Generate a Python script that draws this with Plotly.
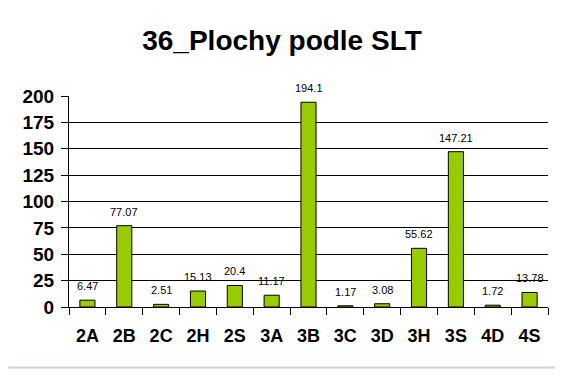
import plotly.graph_objects as go

categories = ["2A", "2B", "2C", "2H", "2S", "3A", "3B", "3C", "3D", "3H", "3S", "4D", "4S"]
values = [6.47, 77.07, 2.51, 15.13, 20.4, 11.17, 194.1, 1.17, 3.08, 55.62, 147.21, 1.72, 13.78]
value_labels = ["6.47", "77.07", "2.51", "15.13", "20.4", "11.17", "194.1", "1.17", "3.08", "55.62", "147.21", "1.72", "13.78"]
y_ticks = [0, 25, 50, 75, 100, 125, 150, 175, 200]

FONT = "Liberation Sans, Arial, sans-serif"
W, H = 555, 369  # page body has an 8px margin

fig = go.Figure(go.Bar(
    x=categories, y=values,
    marker=dict(color="#99cc00", line=dict(color="black", width=1)),
    width=0.41,
))

for c, v, t in zip(categories, values, value_labels):
    fig.add_annotation(x=c, y=v, text=t, showarrow=False, yanchor="bottom", yshift=6,
                       font=dict(family=FONT, size=11, color="black"))

fig.add_shape(type="line", xref="paper", yref="paper", x0=-0.2, x1=1.1, y0=-0.287, y1=-0.287,
              line=dict(color="#d4d0c8", width=2))

fig.update_layout(
    width=W, height=H,
    margin=dict(l=61, r=15, t=88, b=70, autoexpand=False),
    paper_bgcolor="white", plot_bgcolor="white",
    title=dict(text="<b>36_Plochy podle SLT</b>", x=274 / W, xref="container", xanchor="center",
               y=1 - 32 / H, yanchor="middle",
               font=dict(family=FONT, size=28, color="black")),
    showlegend=False,
    xaxis=dict(tickson="boundaries", ticks="outside", ticklen=7, tickcolor="black",
               showline=True, linecolor="black", linewidth=1,
               tickfont=dict(family=FONT, size=18, color="black"),
               tickvals=categories, ticktext=["<b>%s</b>" % c for c in categories],
               ticklabelstandoff=12,
               range=[-0.5, 12.5]),
    yaxis=dict(range=[0, 200], tickvals=y_ticks, ticktext=["<b>%d</b>" % t for t in y_ticks],
               ticks="outside", ticklen=7, tickcolor="black",
               showgrid=True, gridcolor="black", gridwidth=1,
               showline=True, linecolor="black", linewidth=1, zeroline=False,
               ticklabelstandoff=3,
               tickfont=dict(family=FONT, size=19, color="black")),
)

fig.write_html("out.html")
